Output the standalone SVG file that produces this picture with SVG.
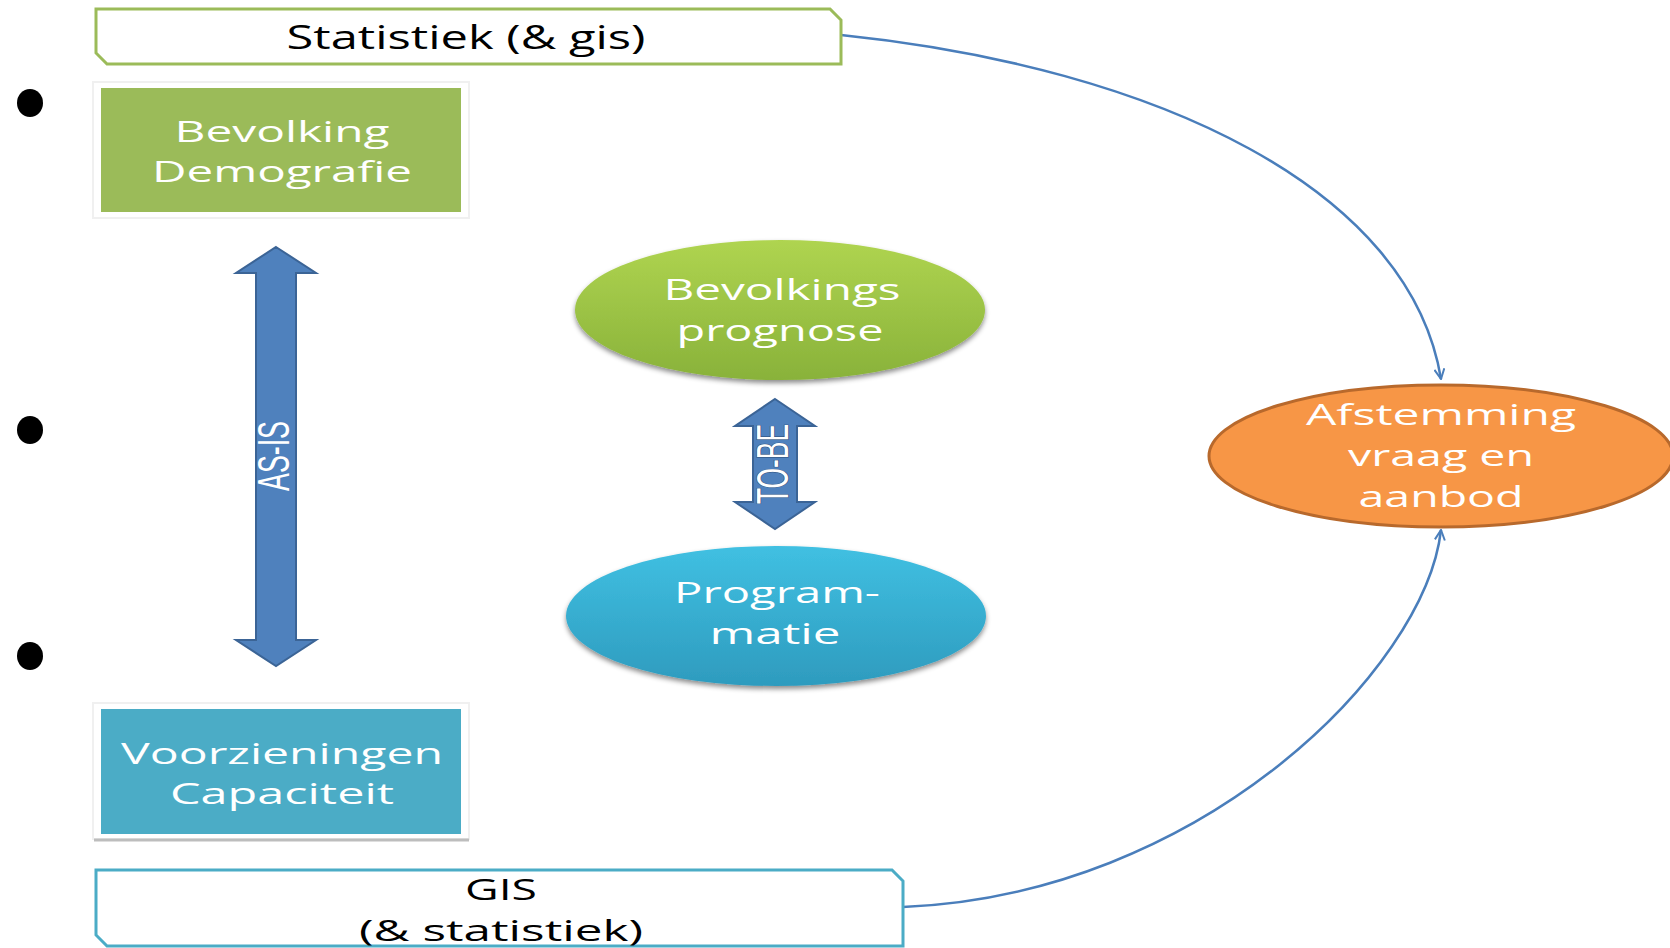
<svg xmlns="http://www.w3.org/2000/svg" width="1670" height="948" viewBox="0 0 1670 948">
<defs>
<style>
.t{font-family:"Open Sans","Liberation Sans",sans-serif;fill:#fff;text-anchor:middle}
.d{font-family:"Open Sans","Liberation Sans",sans-serif;fill:#000;text-anchor:middle}
.n{font-family:"Liberation Sans","DejaVu Sans",sans-serif;fill:#fff;text-anchor:middle}
.conn{fill:none;stroke:#4A7EBB;stroke-width:2.5}
.dbl{fill:#4F81BD;stroke:#3B6496;stroke-width:2}
</style>
<linearGradient id="gG" x1="0" y1="0" x2="0" y2="1">
<stop offset="0" stop-color="#AFD450"/><stop offset="1" stop-color="#89B23A"/>
</linearGradient>
<linearGradient id="gC" x1="0" y1="0" x2="0" y2="1">
<stop offset="0" stop-color="#40C0E2"/><stop offset="1" stop-color="#2E9BBE"/>
</linearGradient>
<filter id="sh" x="-10%" y="-20%" width="120%" height="140%">
<feDropShadow dx="0" dy="3" stdDeviation="2.5" flood-color="#000" flood-opacity="0.45"/>
</filter>
<marker id="ah" viewBox="0 0 12 12" refX="11" refY="6" markerWidth="12" markerHeight="12" markerUnits="userSpaceOnUse" orient="auto">
<path d="M1,1 L11,6 L1,11" fill="none" stroke="#4A7EBB" stroke-width="2"/>
</marker>
</defs>

<g id="connectors">
<path class="conn" d="M841,35 C1160,68 1410,190 1441,379" marker-end="url(#ah)"/>
<path class="conn" d="M903,907 C1200,895 1425,670 1441,530" marker-end="url(#ah)"/>
</g>

<g id="bullets">
<ellipse cx="30" cy="103" rx="13" ry="14" fill="#000"/>
<ellipse cx="30" cy="430" rx="13" ry="14" fill="#000"/>
<ellipse cx="30" cy="656" rx="13" ry="14" fill="#000"/>
</g>

<g id="statistiek">
<path d="M96,9 L830,9 L841,20 L841,64 L107,64 L96,53 Z" fill="#fff" stroke="#9BBB59" stroke-width="3"/>
<text class="d" x="466" y="49" font-size="32" textLength="359" lengthAdjust="spacingAndGlyphs">Statistiek (&amp; gis)</text>
</g>

<g id="bevolking">
<rect x="93" y="82" width="376" height="136" fill="none" stroke="#F0F0F0" stroke-width="2"/>
<rect x="101" y="88" width="360" height="124" fill="#9BBB59"/>
<text class="t" x="282" y="142" font-size="30" textLength="215" lengthAdjust="spacingAndGlyphs">Bevolking</text>
<text class="t" x="282" y="182" font-size="30" textLength="260" lengthAdjust="spacingAndGlyphs">Demografie</text>
</g>

<g id="voorzieningen">
<rect x="93" y="703" width="376" height="136" fill="none" stroke="#F0F0F0" stroke-width="2"/>
<line x1="94" y1="840" x2="469" y2="840" stroke="#BDBDBD" stroke-width="3"/>
<rect x="101" y="709" width="360" height="125" fill="#4BACC6"/>
<text class="t" x="282" y="764" font-size="30" textLength="322" lengthAdjust="spacingAndGlyphs">Voorzieningen</text>
<text class="t" x="282" y="804" font-size="30" textLength="224" lengthAdjust="spacingAndGlyphs">Capaciteit</text>
</g>

<g id="as-is">
<path class="dbl" d="M276,247 L316,273 L296,273 L296,640 L316,640 L276,666 L236,640 L256,640 L256,273 L236,273 Z"/>
<text class="n" transform="translate(289,456) rotate(-90)" font-size="44" textLength="70" lengthAdjust="spacingAndGlyphs">AS-IS</text>
</g>

<g id="bevolkings-prognose">
<ellipse cx="780" cy="310" rx="205" ry="70" fill="url(#gG)" filter="url(#sh)"/>
<text class="t" x="782" y="300" font-size="30" textLength="237" lengthAdjust="spacingAndGlyphs">Bevolkings</text>
<text class="t" x="780" y="341" font-size="30" textLength="207" lengthAdjust="spacingAndGlyphs">prognose</text>
</g>

<g id="to-be">
<path class="dbl" d="M775,399 L815,426 L797,426 L797,502 L815,502 L775,529 L735,502 L753,502 L753,426 L735,426 Z"/>
<text class="n" transform="translate(788,464) rotate(-90)" font-size="44" textLength="80" lengthAdjust="spacingAndGlyphs" stroke="#2C4A73" stroke-width="1.2" paint-order="stroke">TO-BE</text>
</g>

<g id="programmatie">
<ellipse cx="776" cy="616" rx="210" ry="70" fill="url(#gC)" filter="url(#sh)"/>
<text class="t" x="777" y="603" font-size="30" textLength="206" lengthAdjust="spacingAndGlyphs">Program-</text>
<text class="t" x="775" y="644" font-size="30" textLength="131" lengthAdjust="spacingAndGlyphs">matie</text>
</g>

<g id="afstemming">
<ellipse cx="1441" cy="456" rx="232" ry="71" fill="#F79646" stroke="#B8692C" stroke-width="3"/>
<text class="t" x="1441" y="425" font-size="30" textLength="270" lengthAdjust="spacingAndGlyphs">Afstemming</text>
<text class="t" x="1441" y="466" font-size="30" textLength="186" lengthAdjust="spacingAndGlyphs">vraag en</text>
<text class="t" x="1441" y="507" font-size="30" textLength="165" lengthAdjust="spacingAndGlyphs">aanbod</text>
</g>

<g id="gis">
<path d="M96,870 L892,870 L903,881 L903,946 L107,946 L96,935 Z" fill="#fff" stroke="#4BACC6" stroke-width="3"/>
<text class="d" x="501" y="900" font-size="30" textLength="72" lengthAdjust="spacingAndGlyphs">GIS</text>
<text class="d" x="501" y="941" font-size="30" textLength="284" lengthAdjust="spacingAndGlyphs">(&amp; statistiek)</text>
</g>
</svg>
